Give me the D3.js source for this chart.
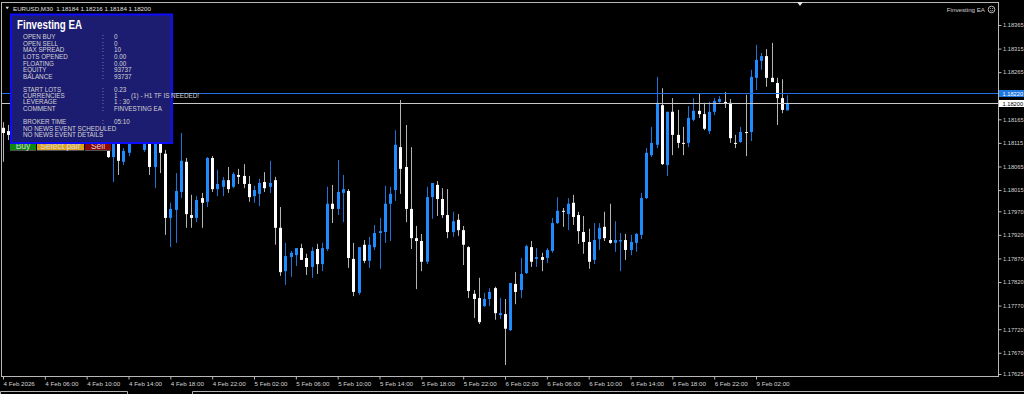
<!DOCTYPE html>
<html><head><meta charset="utf-8">
<script src="https://cdn.jsdelivr.net/npm/d3@7"></script>
<style>
html,body{margin:0;padding:0;background:#000;overflow:hidden;}
svg{display:block;}
text{font-family:"Liberation Sans",Arial,sans-serif;}
</style></head><body>
<svg id="c" width="1024" height="394"></svg>
<script>
// ---- data (EURUSD M30, bars from 4 Feb 2026 02:00) ----
const open=[1.18147,1.18140,1.18134,1.18159,1.18174,1.18164,1.18181,1.18195,1.18172,1.18147,
1.18168,1.18185,1.18166,1.18140,1.18155,1.18166,1.18151,1.18132,1.18149,1.18138,
1.18121,1.18085,1.18132,1.18075,1.18094,1.18125,1.18142,1.18100,1.18147,1.18064,
1.18132,1.18092,1.17956,1.17973,1.18011,1.18075,1.17962,1.17956,1.17998,1.17990,
1.18083,1.18017,1.18022,1.18036,1.18022,1.18047,1.18045,1.18028,1.18002,1.18007,
1.18032,1.18022,1.18036,1.17935,1.17843,1.17873,1.17877,1.17892,1.17871,1.17852,
1.17890,1.17858,1.17890,1.17986,1.17975,1.18009,1.18013,1.17869,1.17797,1.17899,
1.17865,1.17894,1.17924,1.17926,1.17986,1.18015,1.18106,1.18064,1.17975,1.17913,
1.17907,1.17863,1.18000,1.18026,1.17996,1.17962,1.17926,1.17952,1.17930,1.17894,
1.17795,1.17786,1.17769,1.17784,1.17807,1.17750,1.17752,1.17718,1.17816,1.17803,
1.17839,1.17894,1.17869,1.17873,1.17871,1.17886,1.17945,1.17971,1.17964,1.17988,
1.17962,1.17926,1.17905,1.17867,1.17911,1.17937,1.17909,1.17903,1.17906,1.17909,
1.17888,1.17903,1.17920,1.17998,1.18089,1.18111,1.18195,1.18068,1.18181,1.18132,
1.18115,1.18115,1.18164,1.18183,1.18176,1.18140,1.18181,1.18202,1.18202,1.18200,
1.18115,1.18117,1.18138,1.18138,1.18253,1.18289,1.18299,1.18253,1.18242,1.18210,
1.18184];
const high=[1.18159,1.18153,1.18168,1.18185,1.18198,1.18189,1.18206,1.18210,1.18185,1.18176,
1.18193,1.18202,1.18181,1.18164,1.18174,1.18189,1.18172,1.18159,1.18168,1.18155,
1.18138,1.18142,1.18147,1.18104,1.18132,1.18153,1.18164,1.18159,1.18155,1.18142,
1.18147,1.18100,1.17988,1.18051,1.18136,1.18083,1.18005,1.18002,1.18009,1.18085,
1.18087,1.18058,1.18043,1.18064,1.18053,1.18060,1.18070,1.18045,1.18024,1.18039,
1.18053,1.18077,1.18043,1.17979,1.17903,1.17886,1.17892,1.17901,1.17880,1.17894,
1.17901,1.17903,1.18022,1.18026,1.18079,1.18047,1.18017,1.17903,1.17894,1.17909,
1.17916,1.17941,1.17956,1.18024,1.18022,1.18142,1.18206,1.18153,1.18106,1.17939,
1.17922,1.18022,1.18030,1.18034,1.18019,1.18017,1.17969,1.17964,1.17939,1.17896,
1.17803,1.17829,1.17797,1.17807,1.17810,1.17786,1.17784,1.17818,1.17841,1.17871,
1.17899,1.17907,1.17892,1.17882,1.17892,1.17956,1.18000,1.17977,1.17998,1.18005,
1.17969,1.17960,1.17933,1.17945,1.17945,1.17969,1.17986,1.17949,1.17924,1.17922,
1.17920,1.17924,1.18009,1.18104,1.18149,1.18255,1.18231,1.18181,1.18210,1.18185,
1.18149,1.18193,1.18210,1.18219,1.18200,1.18202,1.18210,1.18214,1.18223,1.18208,
1.18132,1.18149,1.18217,1.18270,1.18323,1.18306,1.18314,1.18327,1.18253,1.18250,
1.18216];
const low=[1.18075,1.18121,1.18121,1.18147,1.18151,1.18142,1.18168,1.18164,1.18138,1.18134,
1.18155,1.18159,1.18130,1.18125,1.18142,1.18147,1.18121,1.18119,1.18125,1.18108,
1.18083,1.18032,1.18047,1.18068,1.18087,1.18119,1.18121,1.18096,1.18047,1.18019,
1.18051,1.17920,1.17894,1.17903,1.17998,1.17935,1.17935,1.17947,1.17935,1.17979,
1.18011,1.18002,1.18002,1.18009,1.18019,1.18028,1.18019,1.17990,1.17988,1.17981,
1.18011,1.18009,1.17899,1.17833,1.17814,1.17831,1.17854,1.17867,1.17835,1.17829,
1.17837,1.17843,1.17886,1.17945,1.17962,1.17947,1.17850,1.17790,1.17793,1.17860,
1.17850,1.17888,1.17848,1.17903,1.17907,1.17992,1.18007,1.17947,1.17890,1.17805,
1.17843,1.17858,1.17954,1.17960,1.17956,1.17913,1.17916,1.17918,1.17856,1.17786,
1.17744,1.17731,1.17767,1.17769,1.17740,1.17742,1.17644,1.17716,1.17773,1.17786,
1.17837,1.17852,1.17852,1.17843,1.17860,1.17882,1.17943,1.17937,1.17930,1.17941,
1.17901,1.17880,1.17848,1.17858,1.17888,1.17907,1.17901,1.17884,1.17843,1.17867,
1.17877,1.17884,1.17911,1.17996,1.18085,1.18104,1.18068,1.18045,1.18089,1.18104,
1.18089,1.18106,1.18161,1.18168,1.18142,1.18134,1.18174,1.18200,1.18189,1.18115,
1.18104,1.18115,1.18087,1.18119,1.18227,1.18270,1.18234,1.18244,1.18153,1.18178,
1.18184];
const close=[1.18136,1.18132,1.18159,1.18174,1.18164,1.18181,1.18195,1.18172,1.18147,1.18168,
1.18185,1.18166,1.18140,1.18155,1.18166,1.18151,1.18132,1.18149,1.18138,1.18121,
1.18085,1.18132,1.18077,1.18098,1.18125,1.18142,1.18151,1.18147,1.18064,1.18132,
1.18094,1.17956,1.17975,1.18013,1.18077,1.17964,1.17956,1.17994,1.17988,1.18083,
1.18017,1.18028,1.18036,1.18017,1.18049,1.18043,1.18028,1.18000,1.18015,1.18030,
1.18019,1.18030,1.17935,1.17841,1.17875,1.17882,1.17892,1.17867,1.17852,1.17886,
1.17858,1.17892,1.17986,1.17975,1.18011,1.18017,1.17871,1.17799,1.17894,1.17865,
1.17899,1.17924,1.17928,1.17986,1.18007,1.18111,1.18060,1.17975,1.17913,1.17907,
1.17863,1.18000,1.18030,1.17996,1.17962,1.17926,1.17949,1.17930,1.17899,1.17801,
1.17784,1.17735,1.17784,1.17799,1.17754,1.17754,1.17721,1.17818,1.17799,1.17837,
1.17896,1.17863,1.17873,1.17867,1.17888,1.17945,1.17971,1.17969,1.17986,1.17958,
1.17928,1.17905,1.17863,1.17909,1.17935,1.17913,1.17903,1.17909,1.17909,1.17888,
1.17905,1.17922,1.17998,1.18094,1.18115,1.18200,1.18070,1.18181,1.18132,1.18115,
1.18113,1.18168,1.18183,1.18176,1.18145,1.18181,1.18204,1.18208,1.18198,1.18125,
1.18113,1.18138,1.18136,1.18255,1.18291,1.18299,1.18253,1.18244,1.18210,1.18185,
1.18200];
const yTicks=[1.18365,1.18315,1.18265,1.18165,1.18115,1.18065,1.18015,1.17970,1.17920,1.17870,1.17820,1.17770,1.17720,1.17670,1.17625];
const xTickIdx=[0,8,16,24,32,40,48,56,64,72,80,88,96,104,112,120,128,136,144];
const xTickLabels=["4 Feb 2026","4 Feb 06:00","4 Feb 10:00","4 Feb 14:00","4 Feb 18:00","4 Feb 22:00",
"5 Feb 02:00","5 Feb 06:00","5 Feb 10:00","5 Feb 14:00","5 Feb 18:00","5 Feb 22:00",
"6 Feb 02:00","6 Feb 06:00","6 Feb 10:00","6 Feb 14:00","6 Feb 18:00","6 Feb 22:00","9 Feb 02:00"];
const askPrice=1.18220, bidPrice=1.18200;
const headerText="EURUSD,M30  1.18184 1.18216 1.18184 1.18200";
const panelTitle="Finvesting EA";
const group1Labels=["OPEN BUY","OPEN SELL","MAX SPREAD","LOTS OPENED","FLOATING","EQUITY","BALANCE"];
const group1Values=["0","0","10","0.00","0.00","93737","93737"];
const group2Labels=["START LOTS","CURRENCIES","LEVERAGE","COMMENT"];
const group2Values=["0.23","1","1 : 30","FINVESTING EA"];
const currencyNote="(1) - H1 TF IS NEEDED!";
const brokerLabel="BROKER TIME", brokerValue="05:10";
const newsLines=["NO NEWS EVENT SCHEDULED","NO NEWS EVENT DETAILS"];
const buttons=["Buy","Select pair","Sell"];

// ---- drawing ----
const svg=d3.select("#c");
const N=open.length;
const x=d3.scaleLinear().domain([0,N-1]).range([3,787.4]);
const y=d3.scaleLinear().domain([1.17625,1.18365]).range([374,25]);
const textCol="#d4d4d4", frameCol="#b8b8b8";
const upCol="#1e8cff", upWick="#1f72d6", dnCol="#ffffff", dnWick="#b4b4b4";
const axFont="5.7px";

svg.append("rect").attr("width",1024).attr("height",394).attr("fill","#000");

// frame
svg.append("rect").attr("x",1.5).attr("y",2.5).attr("width",997).attr("height",374)
  .attr("fill","none").attr("stroke",frameCol).attr("stroke-width",1);

// candles
const idx=d3.range(N);
const cg=svg.append("g");
cg.selectAll("line").data(idx).join("line")
  .attr("x1",i=>Math.round(x(i))+0.5).attr("x2",i=>Math.round(x(i))+0.5)
  .attr("y1",i=>y(high[i])).attr("y2",i=>y(low[i]))
  .attr("stroke",i=>close[i]>=open[i]?upWick:dnWick).attr("stroke-width",1);
cg.selectAll("rect").data(idx).join("rect")
  .attr("x",i=>Math.round(x(i))-1).attr("width",3)
  .attr("y",i=>y(Math.max(open[i],close[i])))
  .attr("height",i=>Math.max(1,Math.abs(y(open[i])-y(close[i]))))
  .attr("fill",i=>close[i]>=open[i]?upCol:dnCol);

// ask / bid lines
const ay=Math.round(y(askPrice))+0.5, by=Math.round(y(bidPrice))+0.5;
svg.append("line").attr("x1",2).attr("x2",998).attr("y1",ay).attr("y2",ay).attr("stroke","#2470e6");
svg.append("line").attr("x1",2).attr("x2",998).attr("y1",by).attr("y2",by).attr("stroke","#c8c8c8");

// bottom axis
const xa=svg.append("g").attr("transform","translate(0,376.5)")
  .call(d3.axisBottom(x).tickValues(xTickIdx).tickFormat((d,i)=>xTickLabels[i]).tickSize(3).tickPadding(2));
xa.select(".domain").remove();
xa.selectAll(".tick line").attr("stroke",frameCol);
xa.selectAll(".tick text").attr("text-anchor","start").attr("x",0)
  .attr("fill",textCol).style("font-size","6.2px").style("font-family","'Liberation Sans',Arial,sans-serif");

// right axis
const ya=svg.append("g").attr("transform","translate(998.5,0)")
  .call(d3.axisRight(y).tickValues(yTicks).tickFormat(d3.format(".5f")).tickSize(3).tickPadding(1.5));
ya.select(".domain").remove();
ya.selectAll(".tick line").attr("stroke",frameCol);
ya.selectAll(".tick text").attr("fill",textCol).style("font-size",axFont).style("font-family","'Liberation Sans',Arial,sans-serif");

// price labels
svg.append("rect").attr("x",999).attr("y",ay-3.5).attr("width",25).attr("height",7).attr("fill","#1f78e0");
svg.append("text").attr("x",1002.5).attr("y",ay+2.1).attr("fill","#ffffff").style("font-size",axFont).text(d3.format(".5f")(askPrice));
svg.append("rect").attr("x",999).attr("y",by-3.5).attr("width",25).attr("height",7).attr("fill","#ffffff");
svg.append("text").attr("x",1002.5).attr("y",by+2.1).attr("fill","#000").style("font-size",axFont).text(d3.format(".5f")(bidPrice));

// header
svg.append("path").attr("d","M5.5,6.7 L9,6.7 L7.25,9.3 Z").attr("fill","#e0e0e0");
svg.append("text").attr("x",13).attr("y",10.5).attr("fill","#e0e0e0").style("font-size","6.2px")
  .style("white-space","pre").attr("xml:space","preserve").text(headerText);
svg.append("text").attr("x",985).attr("y",11.7).attr("text-anchor","end").attr("fill","#d0d0d0").style("font-size","6.2px").text(panelTitle);
const sm=svg.append("g").attr("transform","translate(991.5,9.5)");
sm.append("circle").attr("r",3.3).attr("fill","none").attr("stroke","#c8c8c8").attr("stroke-width",0.9);
sm.append("circle").attr("cx",-1.2).attr("cy",-0.9).attr("r",0.5).attr("fill","#c8c8c8");
sm.append("circle").attr("cx",1.2).attr("cy",-0.9).attr("r",0.5).attr("fill","#c8c8c8");
sm.append("path").attr("d","M-1.6,0.8 Q0,2.4 1.6,0.8").attr("fill","none").attr("stroke","#c8c8c8").attr("stroke-width",0.7);
svg.append("path").attr("d","M797,2 L803,2 L800,6 Z").attr("fill","#e8e8e8");

// buttons
const btnX=[10,37,85], btnW=[26,47,26], btnC=["#0e8a12","#dca21e","#8e0808"];
buttons.forEach((b,i)=>{
  svg.append("rect").attr("x",btnX[i]).attr("y",134).attr("width",btnW[i]).attr("height",17).attr("fill",btnC[i]);
  svg.append("line").attr("x1",btnX[i]).attr("x2",btnX[i]+btnW[i]).attr("y1",150.5).attr("y2",150.5).attr("stroke","#505050");
  svg.append("text").attr("x",btnX[i]+btnW[i]/2).attr("y",148.5).attr("text-anchor","middle")
    .attr("fill","#d8d8d8").style("font-size","8.5px").text(b);
});

// panel
svg.append("rect").attr("x",11).attr("y",14.5).attr("width",161).attr("height",128.5)
  .attr("fill","#1c1c70").attr("stroke","#0c0cff").attr("stroke-width",2);
svg.append("text").attr("x",17).attr("y",29.3).attr("fill","#ffffff").style("font-size","12.5px").style("font-weight","bold")
  .attr("textLength",65).attr("lengthAdjust","spacingAndGlyphs").text(panelTitle);
function row(label,value,cy){
  svg.append("text").attr("x",23).attr("y",cy+2.2).attr("fill",textCol).style("font-size","6.3px").text(label);
  if(value!==null){
    svg.append("text").attr("x",102).attr("y",cy+2.2).attr("fill",textCol).style("font-size","6.3px").text(":");
    svg.append("text").attr("x",114).attr("y",cy+2.2).attr("fill",textCol).style("font-size","6.3px").text(value);
  }
}
group1Labels.forEach((l,i)=>row(l,group1Values[i],36.7+i*6.67));
group2Labels.forEach((l,i)=>row(l,group2Values[i],89.3+i*6.47));
svg.append("text").attr("x",131).attr("y",95.75+2.2).attr("fill",textCol).style("font-size","6.3px").text(currencyNote);
row(brokerLabel,brokerValue,121.7);
newsLines.forEach((l,i)=>row(l,null,128.3+i*6.7));

// bottom tab strip
svg.append("path").attr("d","M0.5,394 L0.5,391.5 L127.5,391.5 L127.5,394 M192.5,394 L192.5,391.5 L1024,391.5")
  .attr("fill","none").attr("stroke","#b0b0b0");
</script>
</body></html>
